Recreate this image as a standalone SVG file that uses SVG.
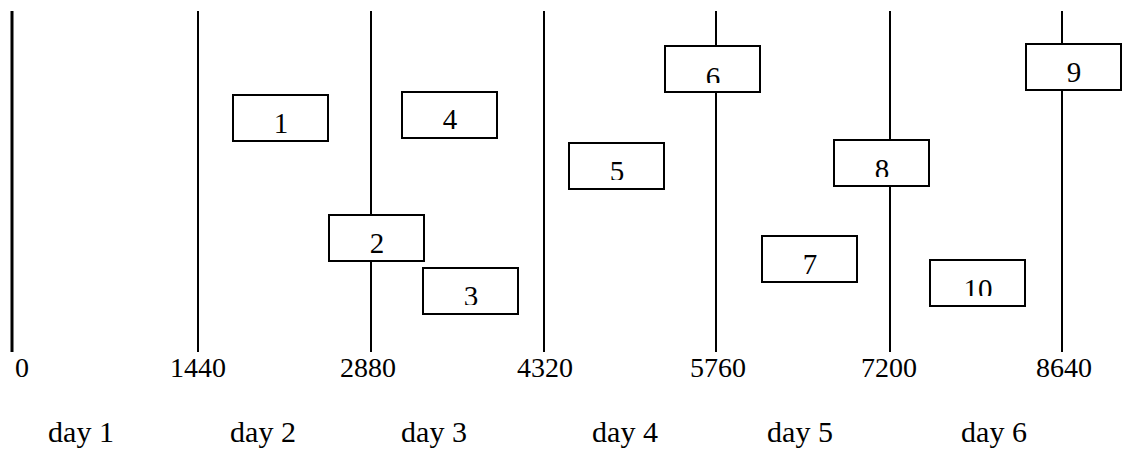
<svg xmlns="http://www.w3.org/2000/svg" width="1124" height="451" viewBox="0 0 1124 451">
  <style>
    .grid { stroke: #000; stroke-width: 2; fill: none; }
    .grid0 { stroke: #000; stroke-width: 3; fill: none; }
    .box { fill: #fff; stroke: #000; stroke-width: 2; }
    .num { font-family: "Liberation Serif", "Times New Roman", serif; font-size: 29px; text-anchor: middle; fill: #000; }
    .tick { font-family: "Liberation Serif", "Times New Roman", serif; font-size: 28px; text-anchor: middle; fill: #000; }
    .day { font-family: "Liberation Serif", "Times New Roman", serif; font-size: 30px; text-anchor: middle; fill: #000; }
  </style>
  <defs>
    <clipPath id="c3"><rect x="422" y="267" width="97" height="38"/></clipPath>
    <clipPath id="c5"><rect x="568" y="142" width="97" height="38"/></clipPath>
    <clipPath id="c6"><rect x="664" y="45" width="97" height="38"/></clipPath>
    <clipPath id="c8"><rect x="833" y="139" width="97" height="38"/></clipPath>
    <clipPath id="c10"><rect x="929" y="259" width="97" height="37"/></clipPath>
  </defs>
  <rect width="1124" height="451" fill="#fff"/>

  <!-- day boundaries (minutes) -->
  <g id="connectors">
    <line class="grid0" x1="12" y1="11" x2="12" y2="352"/>
    <line class="grid" x1="198" y1="11" x2="198" y2="352"/>
    <line class="grid" x1="371" y1="11" x2="371" y2="352"/>
    <line class="grid" x1="544" y1="11" x2="544" y2="352"/>
    <line class="grid" x1="716" y1="11" x2="716" y2="352"/>
    <line class="grid" x1="890" y1="11" x2="890" y2="352"/>
    <line class="grid" x1="1062" y1="11" x2="1062" y2="352"/>
  </g>

  <!-- jobs -->
  <g id="job1"><rect class="box" x="233" y="95" width="95" height="46"/><text class="num" x="281" y="133">1</text></g>
  <g id="job2"><rect class="box" x="329" y="215" width="95" height="46"/><text class="num" x="377" y="253">2</text></g>
  <g id="job3"><rect class="box" x="423" y="268" width="95" height="46"/><text class="num" x="471" y="306" clip-path="url(#c3)">3</text></g>
  <g id="job4"><rect class="box" x="402" y="92" width="95" height="46"/><text class="num" x="450" y="129">4</text></g>
  <g id="job5"><rect class="box" x="569" y="143" width="95" height="46"/><text class="num" x="617" y="181" clip-path="url(#c5)">5</text></g>
  <g id="job6"><rect class="box" x="665" y="46" width="95" height="46"/><text class="num" x="713" y="87" clip-path="url(#c6)">6</text></g>
  <g id="job7"><rect class="box" x="762" y="236" width="95" height="46"/><text class="num" x="810" y="274">7</text></g>
  <g id="job8"><rect class="box" x="834" y="140" width="95" height="46"/><text class="num" x="882" y="179" clip-path="url(#c8)">8</text></g>
  <g id="job9"><rect class="box" x="1026" y="44" width="95" height="46"/><text class="num" x="1074" y="82">9</text></g>
  <g id="job10"><rect class="box" x="930" y="260" width="95" height="46"/><text class="num" x="978" y="299" clip-path="url(#c10)">10</text></g>

  <!-- axis labels -->
  <g id="ticks">
    <text class="tick" x="22" y="377">0</text>
    <text class="tick" x="198" y="377">1440</text>
    <text class="tick" x="368" y="377">2880</text>
    <text class="tick" x="545" y="377">4320</text>
    <text class="tick" x="718" y="377">5760</text>
    <text class="tick" x="889" y="377">7200</text>
    <text class="tick" x="1064" y="377">8640</text>
  </g>
  <g id="days">
    <text class="day" x="81" y="442">day 1</text>
    <text class="day" x="263" y="442">day 2</text>
    <text class="day" x="434" y="442">day 3</text>
    <text class="day" x="625" y="442">day 4</text>
    <text class="day" x="800" y="442">day 5</text>
    <text class="day" x="994" y="442">day 6</text>
  </g>
</svg>
